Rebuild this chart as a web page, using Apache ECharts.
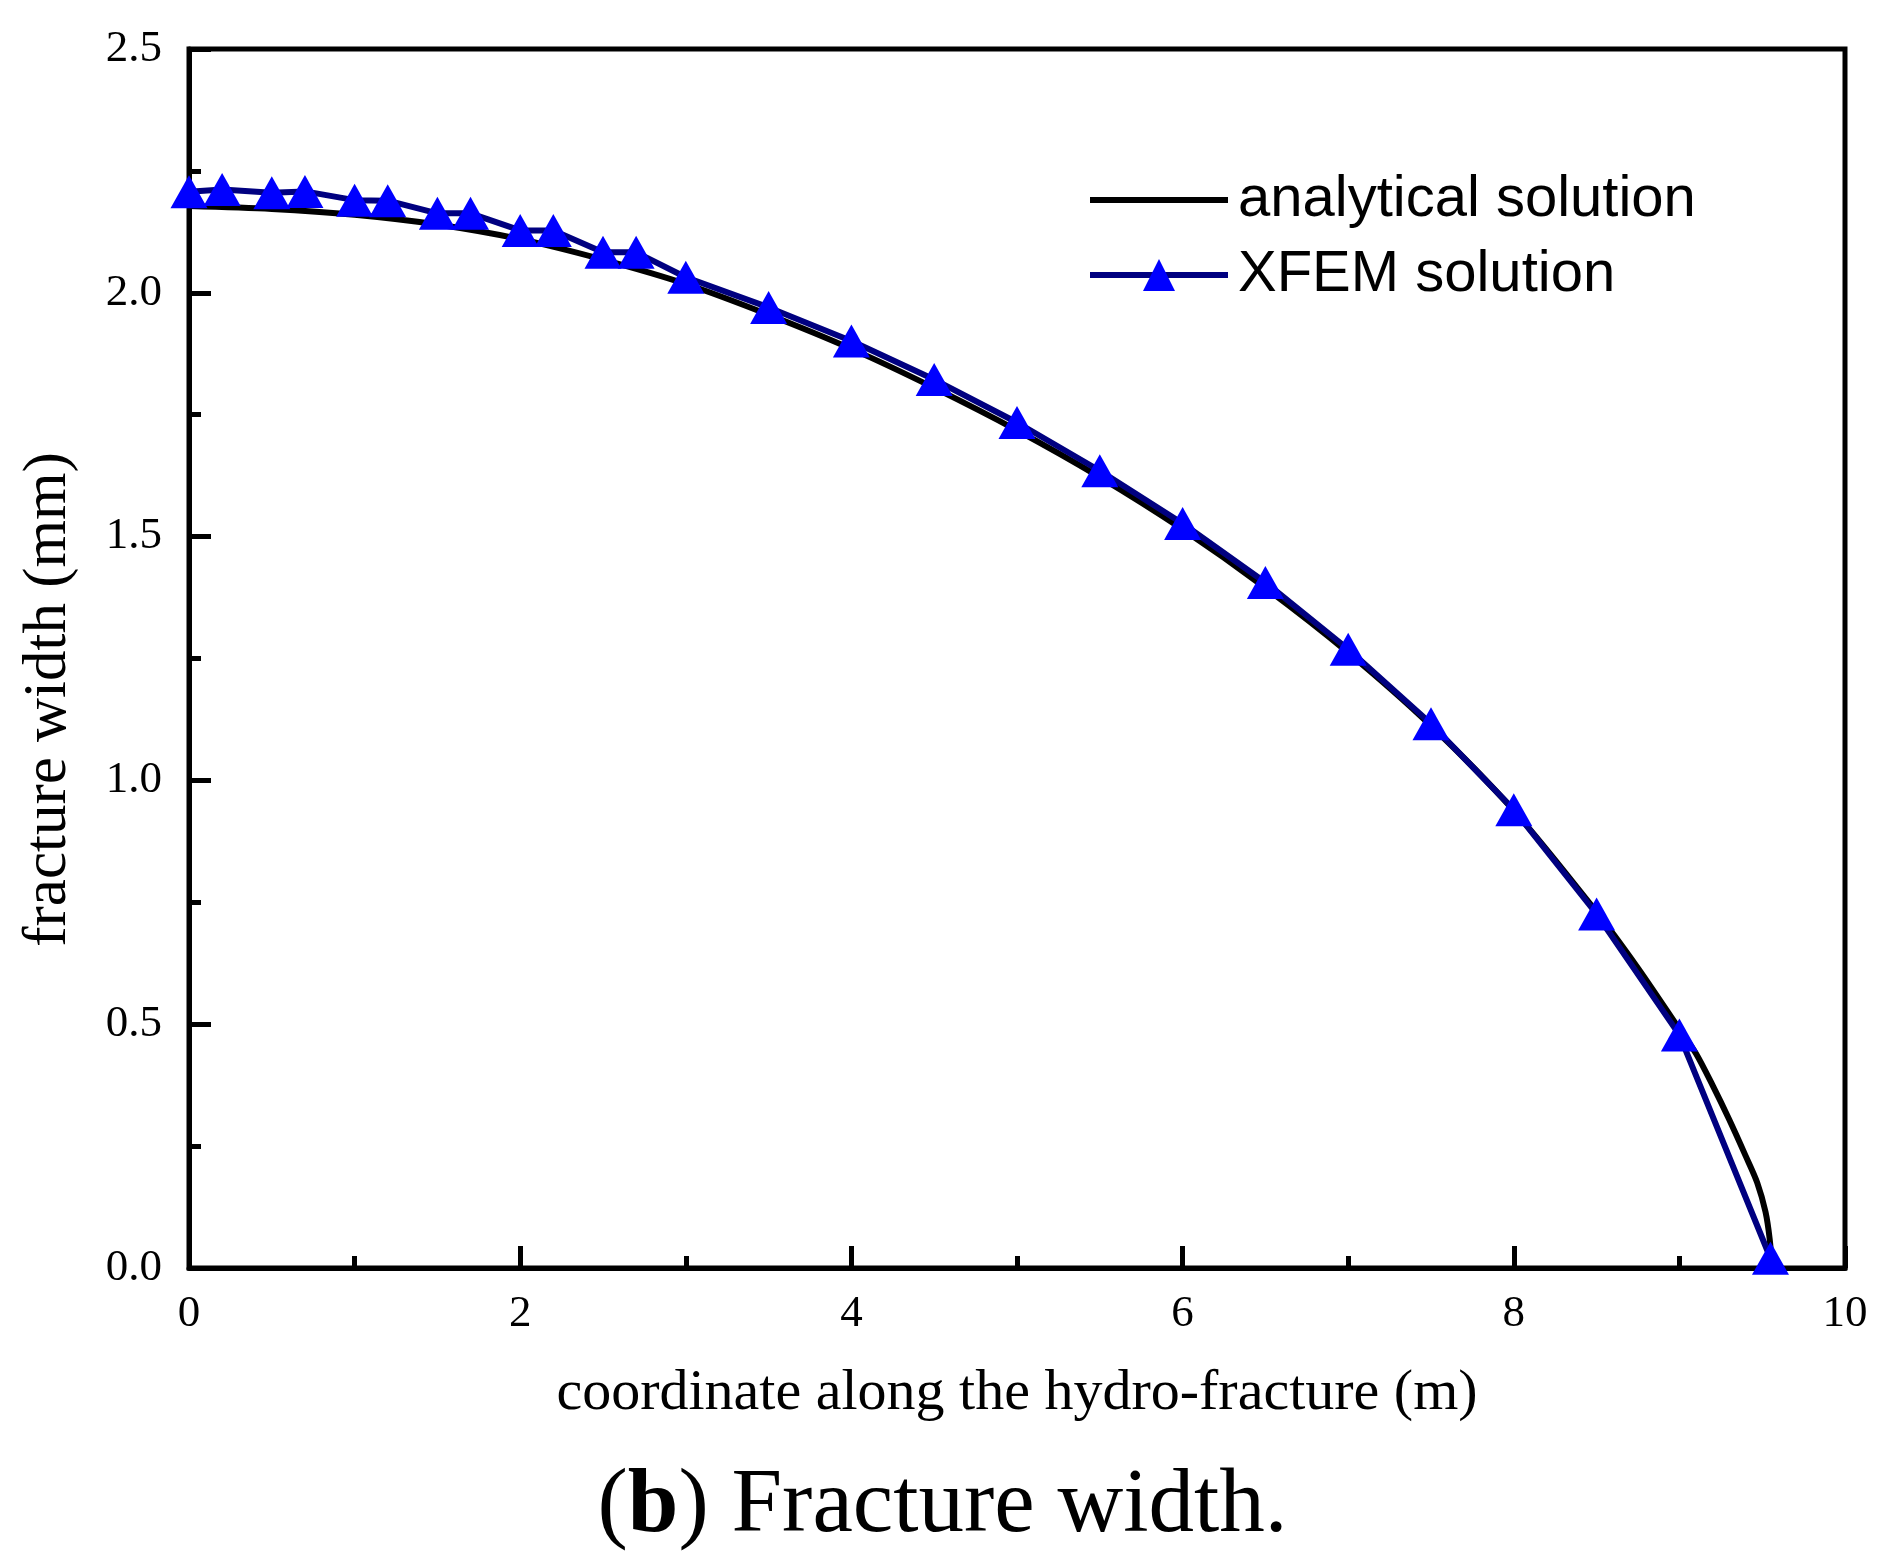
<!DOCTYPE html>
<html>
<head>
<meta charset="utf-8">
<script src="https://cdn.jsdelivr.net/npm/echarts@6/dist/echarts.min.js"></script>
<style>
  html, body { margin: 0; padding: 0; background: #fff; }
  #chart { width: 1885px; height: 1563px; }
</style>
</head>
<body>
<div id="chart"></div>
<script>
// analytical solution (black curve)
const anaX = [0, 0.5, 1.0, 1.5, 2.0, 2.5, 3.0, 3.5, 4.0, 4.5, 5.0, 5.5, 6.0, 6.5, 7.0, 7.5, 8.0, 8.5, 8.75, 9.0, 9.1, 9.2, 9.3, 9.4, 9.47, 9.52, 9.545, 9.56];
const anaY = [2.178, 2.172, 2.16, 2.14, 2.11, 2.068, 2.018, 1.955, 1.885, 1.805, 1.718, 1.622, 1.515, 1.395, 1.262, 1.112, 0.938, 0.73, 0.615, 0.49, 0.44, 0.375, 0.305, 0.23, 0.175, 0.115, 0.06, 0.0];

// XFEM solution (triangles)
const xfemX = [0, 0.2, 0.5, 0.7, 1.0, 1.2, 1.5, 1.7, 2.0, 2.2, 2.5, 2.7, 3.0, 3.5, 4.0, 4.5, 5.0, 5.5, 6.0, 6.5, 7.0, 7.5, 8.0, 8.5, 9.0, 9.55];
const xfemY = [2.207, 2.212, 2.205, 2.208, 2.19, 2.189, 2.163, 2.163, 2.128, 2.128, 2.083, 2.083, 2.032, 1.970, 1.901, 1.822, 1.734, 1.635, 1.527, 1.406, 1.269, 1.116, 0.940, 0.726, 0.478, 0.02];

const SERIF = '"Liberation Serif", "Times New Roman", serif';
const SANS = '"Liberation Sans", Arial, sans-serif';

const zip = (xs, ys) => xs.map((x, i) => [x, ys[i]]);

const chart = echarts.init(document.getElementById('chart'), null, { renderer: 'canvas' });

chart.setOption({
  backgroundColor: '#fff',
  animation: false,
  title: {
    text: '({b|b}) Fracture width.',
    left: 'center', top: 1450,
    textStyle: {
      fontFamily: SERIF, fontSize: 91, fontWeight: 'normal', color: '#000', lineHeight: 104,
      rich: { b: { fontFamily: SERIF, fontSize: 91, fontWeight: 'bold', color: '#000', lineHeight: 104 } },
    },
  },
  grid: {
    left: 189, top: 49, width: 1656, height: 1219,
    show: true, borderColor: '#000', borderWidth: 5, backgroundColor: 'transparent',
  },
  legend: {
    orient: 'vertical', left: 1082, top: 165,
    itemWidth: 138, itemHeight: 40, itemGap: 15,
    symbolKeepAspect: true,
    textStyle: { fontFamily: SANS, fontSize: 58, color: '#000', lineHeight: 60, padding: [0, 0, 0, 5] },
    data: [
      { name: 'analytical solution', icon: 'path://M0,0h138v6h-138z', itemStyle: { color: '#000' } },
      { name: 'XFEM solution', lineStyle: { color: '#000080', width: 6 } },
    ],
  },
  xAxis: {
    type: 'value', min: 0, max: 10, interval: 2,
    name: 'coordinate along the hydro-fracture (m)',
    nameLocation: 'middle', nameGap: 97,
    nameTextStyle: { fontFamily: SERIF, fontSize: 58, color: '#000' },
    axisLine: { show: true, lineStyle: { color: '#000', width: 5 } },
    axisTick: { show: true, inside: true, length: 22, lineStyle: { color: '#000', width: 5 } },
    minorTick: { show: true, splitNumber: 2, length: 12, lineStyle: { color: '#000', width: 5 } },
    axisLabel: { fontFamily: SERIF, fontSize: 45, color: '#000', margin: 24 },
    splitLine: { show: false },
  },
  yAxis: {
    type: 'value', min: 0, max: 2.5, interval: 0.5,
    name: 'fracture width (mm)',
    nameLocation: 'middle', nameGap: 110,
    nameTextStyle: { fontFamily: SERIF, fontSize: 61, color: '#000', padding: [0, 82, 0, 0] },
    axisLine: { show: true, lineStyle: { color: '#000', width: 5 } },
    axisTick: { show: true, inside: true, length: 22, lineStyle: { color: '#000', width: 5 } },
    minorTick: { show: true, splitNumber: 2, length: 12, lineStyle: { color: '#000', width: 5 } },
    axisLabel: { fontFamily: SERIF, fontSize: 45, color: '#000', margin: 27, formatter: (v) => v.toFixed(1) },
    splitLine: { show: false },
  },
  series: [
    {
      name: 'analytical solution', type: 'line', data: zip(anaX, anaY),
      showSymbol: false, symbol: 'none', smooth: 0.3,
      lineStyle: { color: '#000', width: 6 }, itemStyle: { color: '#000' },
    },
    {
      name: 'XFEM solution', type: 'line', data: zip(xfemX, xfemY),
      symbol: 'triangle', symbolSize: [37, 33],
      lineStyle: { color: '#000080', width: 6 },
      itemStyle: { color: '#0000ff' },
    },
  ],
});
</script>
</body>
</html>
